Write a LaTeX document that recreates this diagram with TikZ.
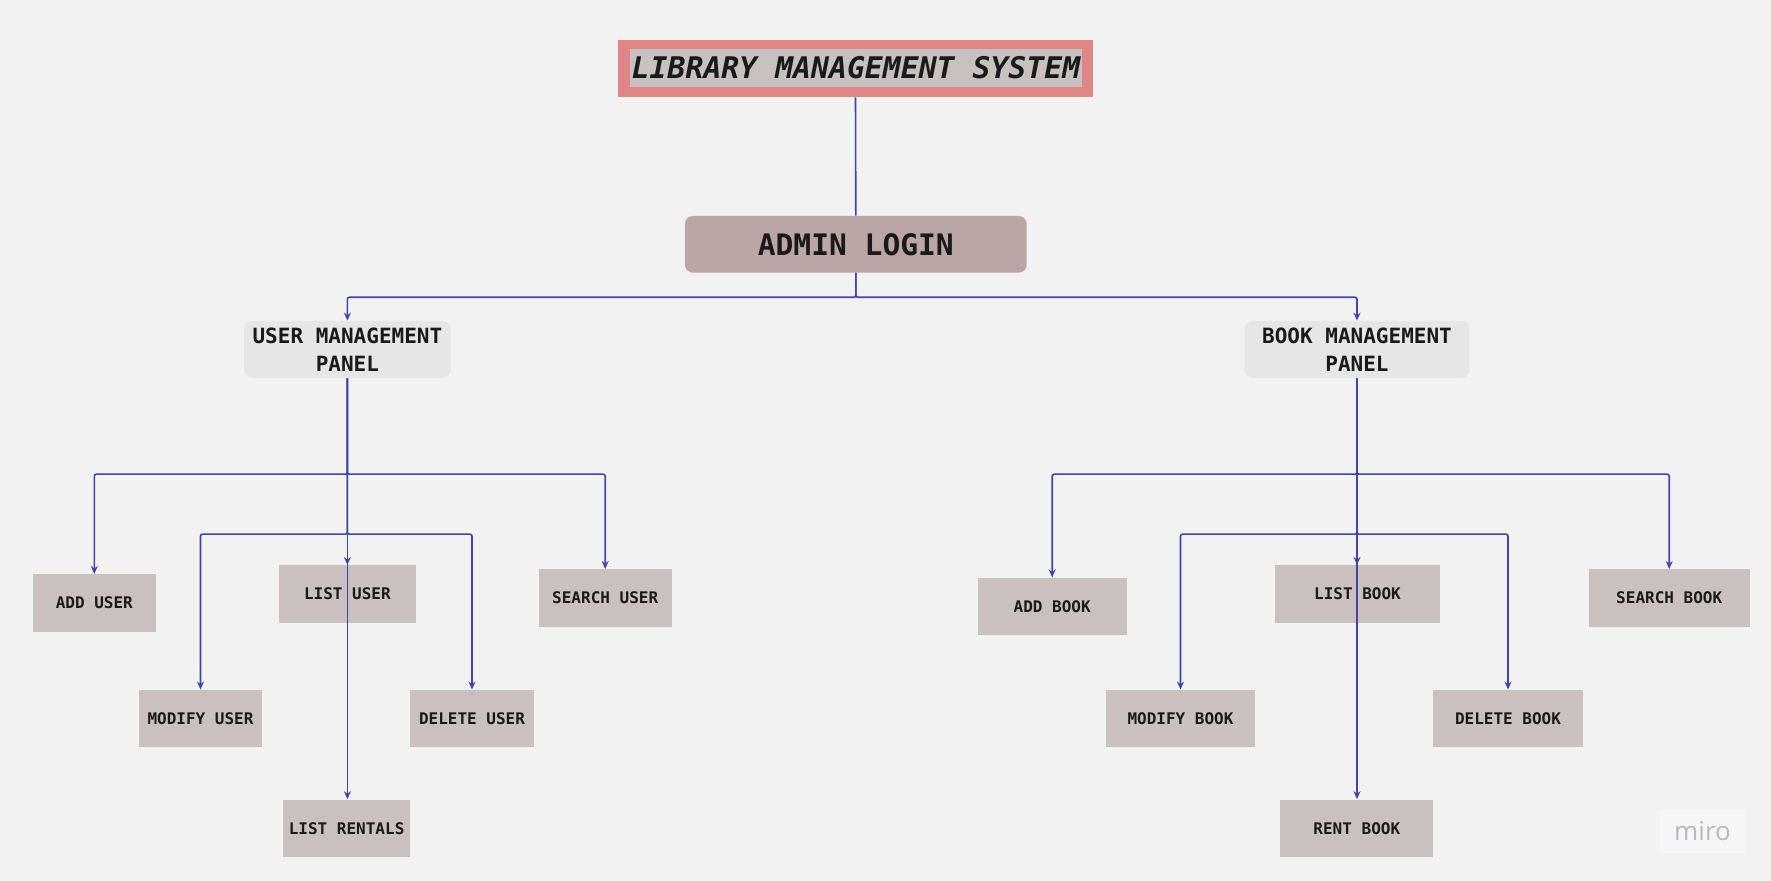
\documentclass[tikz,border=0pt]{standalone}
\usepackage{fontspec}
\setmonofont{DejaVu Sans Mono}
\newfontfamily\mirofont{Open Sans}
\usetikzlibrary{arrows.meta}
\definecolor{bg}{HTML}{F2F2F2}
\definecolor{tpink}{HTML}{DF8787}
\definecolor{tgrey}{HTML}{C9C0C0}
\definecolor{adminc}{HTML}{BCA5A5}
\definecolor{panelc}{HTML}{E6E6E6}
\definecolor{boxc}{HTML}{CAC0BF}
\definecolor{linec}{HTML}{4145A3}
\definecolor{txt}{HTML}{1A1A1A}
\definecolor{miroc}{HTML}{B8B8C2}
\definecolor{mirobg}{HTML}{F6F6F6}
\begin{document}
\begin{tikzpicture}[x=0.5pt,y=-0.5pt,
  leaf/.style={fill=boxc, minimum height=28.65pt, inner sep=0pt, text=txt,
    font=\ttfamily\bfseries\fontsize{8}{9}\selectfont},
  panel/.style={fill=panelc, rounded corners=4pt, minimum height=28.4pt, inner sep=0pt,
    align=center, text=txt, font=\ttfamily\bfseries\fontsize{10.5}{14}\selectfont},
  plain/.style={draw=linec, line width=0.8pt},
  conn/.style={draw=linec, line width=0.8pt, rounded corners=1pt,
    -{Stealth[length=4pt,width=3.5pt]}}]
% background
\fill[bg] (0,0) rectangle (1771,881);
\useasboundingbox (0,0) rectangle (1771,881);

% title
\node[fill=tpink, minimum width=237.5pt, minimum height=28.5pt, inner sep=0pt] (title) at (855.5,68.5) {};
\node[fill=tgrey, minimum width=226pt, minimum height=19pt, inner sep=0pt, text=txt,
  font=\ttfamily\bfseries\itshape\fontsize{14.9}{16}\selectfont] (titletext) at (856,68) {LIBRARY MANAGEMENT SYSTEM};

% admin
\node[fill=adminc, rounded corners=4pt, minimum width=170.9pt, minimum height=28.3pt, inner sep=0pt,
  text=txt, font=\ttfamily\bfseries\fontsize{14.8}{16}\selectfont] (admin) at (855.8,244.3) {ADMIN LOGIN};

% panels
\node[panel, minimum width=103.3pt] (up) at (347.4,349.4) {USER MANAGEMENT\\PANEL};
\node[panel, minimum width=112.4pt] (bp) at (1357,349.4) {BOOK MANAGEMENT\\PANEL};

% user leaves
\node[leaf, minimum width=61.7pt] (adduser) at (94.3,603) {ADD USER};
\node[leaf, minimum width=68.6pt] (listuser) at (347.4,594) {LIST USER};
\node[leaf, minimum width=66.3pt] (searchuser) at (605.2,598) {SEARCH USER};
\node[leaf, minimum width=61.9pt] (modifyuser) at (200.5,718.6) {MODIFY USER};
\node[leaf, minimum width=61.9pt] (deleteuser) at (472,718.6) {DELETE USER};
\node[leaf, minimum width=63.6pt] (listrentals) at (346.6,828.2) {LIST RENTALS};

% book leaves
\node[leaf, minimum width=74.5pt] (addbook) at (1052.2,606.4) {ADD BOOK};
\node[leaf, minimum width=82.6pt] (listbook) at (1357.5,594) {LIST BOOK};
\node[leaf, minimum width=80.4pt] (searchbook) at (1669.2,598) {SEARCH BOOK};
\node[leaf, minimum width=74.7pt] (modifybook) at (1180.5,718.6) {MODIFY BOOK};
\node[leaf, minimum width=74.7pt] (deletebook) at (1508,718.6) {DELETE BOOK};
\node[leaf, minimum width=76.5pt] (rentbook) at (1356.8,828.2) {RENT BOOK};

% connectors
\draw[plain] (title.south) -- (admin.north);
\draw[conn] (admin.south) -- ++(0,24.3) -| (up.north);
\draw[conn] (admin.south) -- ++(0,24.3) -| (bp.north);

\draw[conn] (up.south) -- ++(0,96) -| (adduser.north);
\draw[conn] (up.south) -- ++(0,96) -| (searchuser.north);
\draw[conn] (up.south) -- ++(0,156) -| (modifyuser.north);
\draw[conn] (up.south) -- ++(0,156) -| (deleteuser.north);
\draw[conn] (up.south) -- (listuser.north);
\draw[conn] (up.south) -- (up.south |- listrentals.north);

\draw[conn] (bp.south) -- ++(0,96) -| (addbook.north);
\draw[conn] (bp.south) -- ++(0,96) -| (searchbook.north);
\draw[conn] (bp.south) -- ++(0,156) -| (modifybook.north);
\draw[conn] (bp.south) -- ++(0,156) -| (deletebook.north);
\draw[conn] (bp.south) -- (bp.south |- listbook.north);
\draw[conn] (bp.south) -- (bp.south |- rentbook.north);

% watermark
\node[fill=mirobg, minimum width=42.5pt, minimum height=21.5pt, inner sep=0pt,
  text=miroc, font=\mirofont\fontsize{13}{14}\selectfont] (miro) at (1702.5,831.5) {miro};
\end{tikzpicture}
\end{document}
